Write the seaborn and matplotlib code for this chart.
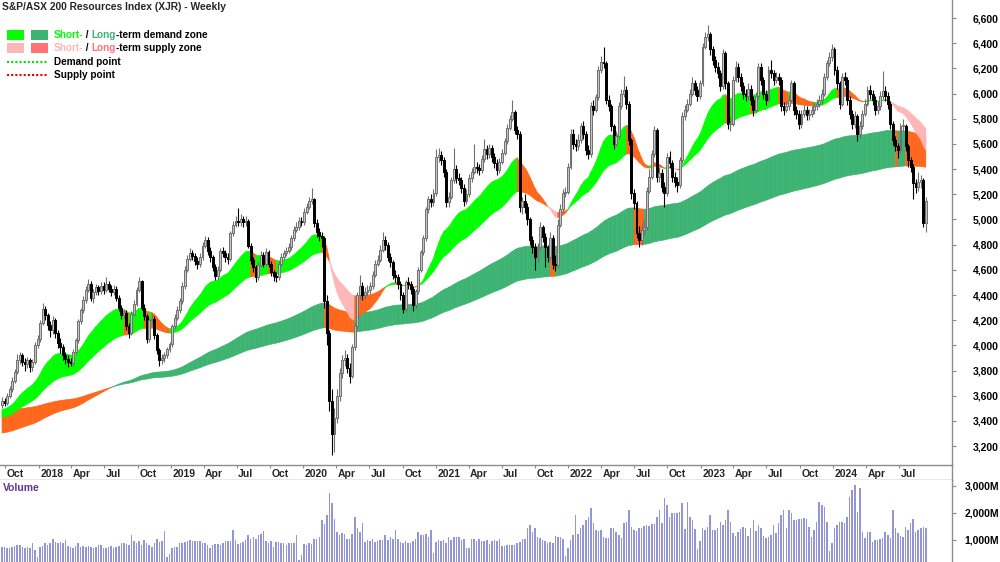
import numpy as np
import pandas as pd
import matplotlib
matplotlib.use("Agg")
import matplotlib.pyplot as plt
import seaborn as sns
from matplotlib.collections import PolyCollection, LineCollection
from matplotlib.patches import Rectangle
from matplotlib.lines import Line2D

# ---------------- data ----------------
title = "S&P/ASX 200 Resources Index (XJR) - Weekly"
first_week = "2017-09-22"
first_open = 3530

closes = [
3560,3545,3600,3650,3720,3790,3880,3920,3870,3850,3880,3830,3870,4000,4050,4180,4290,4240,4160,4120,
4200,4100,4020,3990,3920,3890,3870,3860,3950,4040,4190,4280,4360,4440,4490,4380,4420,4460,4430,4470,
4440,4490,4450,4420,4450,4380,4300,4240,4260,4150,4100,4250,4330,4440,4510,4300,4230,4050,4200,4210,
4080,3960,3880,3900,3920,3970,4010,4150,4220,4280,4350,4470,4600,4690,4730,4710,4670,4650,4700,4790,
4840,4750,4700,4620,4550,4600,4750,4730,4700,4690,4890,4960,4990,4980,5000,4980,4990,4790,4680,4620,
4540,4640,4720,4650,4740,4650,4580,4550,4540,4650,4700,4730,4750,4780,4850,4920,4940,4990,4980,5060,
5100,5150,5160,4970,4900,4870,4850,4350,4100,3560,3300,3420,3600,3780,3880,3900,3820,3760,3990,4150,
4400,4470,4400,4420,4440,4470,4560,4650,4680,4760,4840,4800,4700,4660,4560,4540,4490,4400,4290,4500,
4490,4450,4320,4430,4600,4740,4850,5080,5160,5140,5210,5500,5510,5470,5380,5140,5180,5310,5400,5330,
5310,5250,5150,5200,5330,5380,5420,5410,5390,5480,5560,5520,5570,5500,5450,5390,5460,5530,5620,5730,
5800,5850,5710,5680,5100,5150,5100,5000,4840,4780,4700,4780,4940,4860,4780,4700,4850,4650,4640,4960,
5080,5210,5220,5420,5680,5600,5580,5630,5740,5680,5550,5520,5900,5870,5970,6190,6250,6240,5950,5900,
5740,5600,5660,5900,6000,6030,5920,5630,5210,5130,4890,4840,4920,4940,5230,5340,5520,5710,5340,5370,
5260,5210,5500,5450,5340,5300,5270,5470,5820,5870,5920,6000,6080,6030,5980,6080,6370,6450,6470,6350,
6270,6210,6160,6060,6320,6080,5760,5760,6110,6210,6130,6060,6000,5980,6040,5950,5870,5980,6210,6110,
6000,5950,6190,6160,6110,6130,6110,5900,5870,5900,5950,6080,5870,5840,5760,5840,5870,5830,5840,5870,
5900,5920,5950,6000,6130,6240,6290,6350,6190,6080,5920,6130,6110,5950,5840,5760,5820,5680,5740,5840,
5920,6030,6000,5950,5870,5900,5980,6020,5980,5920,5760,5630,5580,5550,5740,5740,5580,5470,5420,5290,
5260,5300,5310,4970,5150]

highs = [
3590,3585,3625,3680,3745,3815,3930,3950,3940,3900,3910,3900,3890,4030,4080,4200,4334,4310,4260,4190,
4230,4220,4120,4060,4010,3950,3920,3900,3970,4060,4210,4300,4390,4470,4530,4510,4450,4490,4480,4500,
4500,4540,4510,4480,4480,4470,4400,4320,4290,4280,4180,4270,4360,4460,4540,4520,4330,4250,4220,4250,
4230,4100,3980,3930,3950,3990,4030,4170,4250,4310,4380,4500,4630,4720,4770,4760,4730,4700,4730,4820,
4870,4860,4780,4720,4650,4630,4770,4780,4760,4730,4910,4990,5030,5090,5040,5030,5030,5000,4810,4700,
4640,4660,4750,4740,4770,4760,4670,4600,4580,4670,4730,4760,4780,4810,4880,4950,4980,5020,5020,5090,
5130,5180,5247,5170,5000,4930,4900,4870,4400,4120,3650,3500,3650,3820,3920,3960,3930,3860,4010,4180,
4420,4560,4500,4460,4480,4500,4590,4680,4720,4800,4900,4870,4820,4730,4680,4600,4570,4510,4420,4520,
4540,4510,4470,4450,4620,4760,4880,5100,5190,5200,5240,5560,5570,5540,5500,5400,5220,5340,5570,5430,
5370,5340,5280,5240,5360,5410,5600,5460,5440,5510,5640,5590,5600,5590,5530,5480,5490,5560,5650,5760,
5830,5950,5870,5740,5700,5180,5200,5130,5020,4870,4810,4810,4980,4960,4890,4800,4900,4880,4720,5000,
5120,5240,5260,5450,5720,5720,5640,5680,5770,5780,5700,5590,5930,5950,6000,6220,6300,6372,6260,5990,
5920,5760,5700,5930,6040,6140,6060,5940,5650,5240,5150,4950,4980,5000,5260,5400,5550,5740,5730,5420,
5400,5300,5530,5540,5470,5380,5340,5500,5850,5910,5960,6040,6130,6110,6060,6110,6400,6490,6544,6490,
6380,6300,6250,6190,6350,6340,6100,5810,6140,6260,6240,6160,6090,6040,6080,6070,5980,6010,6240,6240,
6130,6030,6220,6270,6190,6170,6160,6130,5930,5940,5990,6110,6100,5900,5870,5870,5910,5900,5880,5900,
5930,5960,5990,6040,6160,6270,6330,6390,6370,6220,6100,6160,6170,6130,5980,5870,5860,5840,5780,5870,
5960,6060,6070,6030,5980,5940,6020,6180,6060,6010,5940,5780,5660,5610,5770,5800,5760,5600,5500,5440,
5320,5380,5350,5330,5180]

lows = [
3500,3515,3530,3585,3630,3700,3770,3850,3840,3800,3820,3790,3800,3850,3980,4030,4160,4200,4120,4070,
4090,4060,3980,3940,3880,3850,3830,3840,3840,3930,4020,4170,4260,4340,4420,4350,4340,4400,4400,4410,
4410,4420,4420,4390,4400,4350,4270,4210,4210,4120,4060,4080,4230,4310,4420,4280,4200,4020,4030,4170,
4050,3930,3840,3850,3870,3900,3950,3990,4130,4200,4260,4330,4450,4580,4670,4680,4640,4610,4620,4680,
4770,4720,4660,4590,4520,4520,4580,4700,4660,4650,4670,4870,4940,4950,4950,4940,4950,4770,4650,4580,
4500,4520,4620,4620,4630,4620,4550,4510,4500,4520,4630,4680,4710,4730,4760,4830,4900,4920,4950,4960,
5040,5080,5120,4940,4860,4830,4780,4300,4000,3480,3130,3150,3380,3560,3740,3840,3780,3700,3740,3960,
4130,4370,4360,4370,4390,4410,4450,4540,4630,4660,4740,4760,4670,4620,4530,4500,4450,4360,4260,4270,
4450,4410,4270,4300,4410,4580,4720,4830,5050,5100,5110,5190,5460,5430,5340,5100,5100,5160,5290,5290,
5270,5210,5110,5120,5180,5300,5360,5370,5350,5370,5460,5480,5490,5460,5410,5350,5370,5440,5510,5600,
5710,5780,5680,5640,5060,5040,5050,4960,4800,4730,4600,4660,4760,4820,4620,4660,4680,4610,4590,4620,
4940,5060,5180,5200,5400,5560,5540,5550,5610,5640,5510,5480,5500,5830,5850,5950,6160,6200,5920,5860,
5700,5560,5580,5640,5880,5970,5880,5590,5160,5080,4850,4780,4800,4880,4920,5210,5320,5500,5300,5300,
5220,5100,5190,5410,5300,5260,5220,5250,5450,5790,5850,5900,5980,5990,5940,5960,6060,6350,6420,6310,
6230,6170,6120,6020,6040,6040,5720,5700,5740,6090,6090,6020,5960,5940,5950,5910,5820,5850,5960,6070,
5960,5910,5930,6120,6070,6080,6070,5860,5830,5850,5870,5930,5830,5800,5720,5730,5810,5790,5790,5810,
5840,5870,5890,5920,5980,6110,6220,6260,6150,6040,5880,5900,6070,5910,5800,5720,5730,5620,5650,5720,
5820,5900,5960,5910,5830,5840,5870,5960,5940,5880,5720,5590,5540,5490,5530,5700,5540,5420,5380,5160,
5210,5230,5250,4940,4900]

volumes_m = [
740,740,690,720,750,780,800,830,740,690,740,720,880,630,380,740,780,880,800,880,
1020,940,880,940,880,1000,780,740,690,780,880,740,780,740,780,740,690,740,800,815,
690,720,740,780,690,740,780,880,880,860,830,1185,950,880,950,800,1000,900,800,740,
880,1050,920,950,1330,380,480,720,740,740,900,900,940,950,1000,950,975,975,950,880,
900,800,720,800,860,860,830,900,950,950,950,1370,1000,860,900,920,1000,1185,1050,1120,
1050,1185,1220,1330,950,880,950,740,920,920,900,900,815,880,880,880,1185,270,440,860,
830,880,860,1040,1050,1120,1740,1590,1930,2730,2360,1770,1310,1185,1270,1220,1025,1050,1220,1860,
1430,1310,1620,920,1000,950,1025,920,975,1000,1000,1185,1000,1100,1025,1370,1025,920,880,950,
900,900,950,1025,1300,1200,1200,1220,1120,1370,500,920,1000,950,1000,900,1120,1000,1120,1100,
1100,1000,1050,690,690,1025,1025,950,1025,950,975,1000,860,950,1000,950,1025,780,780,800,
815,815,800,880,940,1050,1050,1430,1556,1310,1430,1120,1060,1000,950,900,940,880,1150,1120,
1100,1025,390,690,1000,1185,1926,1220,1430,1556,1740,1864,2173,1617,1370,1350,1370,1120,1060,1060,
1430,1430,1310,1185,1060,1640,1680,2110,1490,1370,1350,1430,1430,1520,1556,1520,1590,1590,1860,2110,
1617,2543,2300,1864,1988,2010,1988,2050,2358,1400,2420,1864,1741,1400,650,975,1432,1370,1494,1926,
1370,1370,1432,1679,1556,1741,2111,1679,1270,1150,1309,1400,1494,1432,1150,1432,1741,1350,1556,1432,
1150,1060,1100,1185,1556,1247,1640,1926,2111,1432,2111,1988,1741,1741,1765,1790,1802,1765,1494,1123,
1370,1679,2420,2300,2235,1679,610,877,1432,1556,1679,1679,1617,1860,2600,2850,3037,2050,2914,1309,
1062,1309,1309,938,1000,1000,1025,1062,1309,1185,1062,2111,1432,1247,1150,1123,1494,1370,1617,1765,
1309,1370,1432,1494,1432]

# zone seeds (values at the left edge) and EMA lengths in weeks
short_seed = (3486, 3423)
long_seed = (3300, 3482)
short_len = (25, 55)
long_len = (150, 250)

price_ticks = list(range(3200, 6601, 200))
volume_ticks = [1000, 2000, 3000]
quarter_starts = pd.date_range("2017-10-01", "2024-07-01", freq="QS")

assert len(closes) == len(highs) == len(lows) == len(volumes_m)

# ---------------- styling ----------------
sns.set_theme(style="white")
plt.rcParams["font.family"] = ["Liberation Sans", "DejaVu Sans"]
plt.rcParams["font.weight"] = "bold"

C_SHORT_DEM = "#00FF00"
C_LONG_DEM = "#3CB371"
C_SHORT_SUP = "#FFB6B6"
C_LONG_SUP = "#FF7373"
C_CONFLICT = "#FF661A"
C_VOL = "#9494D8"
C_AXIS = "#8C8C8C"

n = len(closes)
weeks = np.arange(n)
opens = [first_open] + closes[:-1]
start = pd.Timestamp(first_week)

fig = plt.figure(figsize=(10, 5.62), dpi=100)
ax = fig.add_axes([0, 97 / 562, 0.952, 465 / 562])
axd = fig.add_axes([0, 82 / 562, 0.952, 15 / 562])
axv = fig.add_axes([0, 0, 0.952, 82 / 562])

XL = (-0.79, 374.3)


def ema(values, length, seed):
    a = 2.0 / (length + 1)
    e = seed
    out = []
    for v in values:
        e = e + a * (v - e)
        out.append(e)
    return np.array(out)


def draw_zone(fast, slow, c_dem, c_sup):
    polys, cols = [], []
    for i in range(n - 1):
        lo0, hi0 = sorted((fast[i], slow[i]))
        lo1, hi1 = sorted((fast[i + 1], slow[i + 1]))
        polys.append([(i, lo0), (i + 1, lo1), (i + 1, hi1), (i, hi0)])
        j = i + 1
        bull = fast[j] > slow[j]
        above = closes[j] >= (fast[j] + slow[j]) / 2
        if bull and above:
            c = c_dem
        elif (not bull) and (not above):
            c = c_sup
        else:
            c = C_CONFLICT
        cols.append(c)
    pc = PolyCollection(polys, facecolors=cols, edgecolors=cols, linewidths=0.4, zorder=1)
    ax.add_collection(pc)


lf = ema(closes, long_len[0], long_seed[0])
ls = ema(closes, long_len[1], long_seed[1])
sf = ema(closes, short_len[0], short_seed[0])
ss = ema(closes, short_len[1], short_seed[1])
draw_zone(lf, ls, C_LONG_DEM, C_LONG_SUP)
draw_zone(sf, ss, C_SHORT_DEM, C_SHORT_SUP)

# candles
wicks, wcols, bodies, bface, bedge = [], [], [], [], []
hw = 0.38
for i in range(n):
    o, c, h, l = opens[i], closes[i], highs[i], lows[i]
    up = c >= o
    col = "#707070" if up else "#000000"
    wicks.append([(i, l), (i, h)])
    wcols.append(col)
    lo, hi = min(o, c), max(o, c)
    if hi - lo < 8:
        hi = lo + 8
    bodies.append([(i - hw, lo), (i + hw, lo), (i + hw, hi), (i - hw, hi)])
    bface.append("#C4C4C4" if up else "#000000")
    bedge.append(col)
ax.add_collection(LineCollection(wicks, colors=wcols, linewidths=0.8, zorder=3))
ax.add_collection(PolyCollection(bodies, facecolors=bface, edgecolors=bedge, linewidths=0.7, zorder=4))

ax.set_xlim(*XL)
ax.set_ylim(3050, 6743)
ax.yaxis.tick_right()
ax.set_yticks(price_ticks)
ax.set_yticklabels([f"{v:,}" for v in price_ticks])
ax.tick_params(axis="y", direction="out", length=3, width=0.8, color=C_AXIS, pad=12,
               labelsize=7.5, labelcolor="black")
ax.set_xticks([])
for s in ("left", "top", "bottom"):
    ax.spines[s].set_visible(False)
ax.spines["right"].set_color(C_AXIS)
ax.spines["right"].set_linewidth(1.0)

# date strip
axd.set_xlim(*XL)
axd.set_ylim(0, 1)
axd.set_xticks([])
axd.set_yticks([])
axd.spines["left"].set_visible(False)
for s in ("top", "bottom", "right"):
    axd.spines[s].set_color(C_AXIS)
    axd.spines[s].set_linewidth(1.0)
for d in quarter_starts:
    pos = (d - start).days / 7.0
    lab = str(d.year) if d.month == 1 else d.strftime("%b")
    axd.vlines(pos, 0.8, 1.0, color=C_AXIS, linewidth=0.8)
    axd.text(pos + 0.6, 0.42, lab, ha="left", va="center", fontsize=7.5, fontweight="bold")

# volume
sns.barplot(x=weeks, y=volumes_m, native_scale=True, color=C_VOL, saturation=1,
            width=0.6, errorbar=None, linewidth=0, ax=axv)
axv.set_xlim(*XL)
axv.set_ylim(185, 3222)
axv.set_xlabel("")
axv.set_ylabel("")
axv.set_xticks([])
axv.yaxis.tick_right()
axv.set_yticks(volume_ticks)
axv.set_yticklabels([f"{v:,}M" for v in volume_ticks])
axv.tick_params(axis="y", direction="out", length=3, width=0.8, color=C_AXIS, pad=6,
                labelsize=7.5, labelcolor="black")
for s in ("left", "top", "bottom"):
    axv.spines[s].set_visible(False)
axv.spines["right"].set_color(C_AXIS)
axv.spines["right"].set_linewidth(1.0)


def fx(x):
    return x / 1000.0


def fy(y):
    return 1 - y / 562.0


fig.text(fx(3), fy(488), "Volume", color="#663399", fontsize=7.5, fontweight="bold", va="center")
fig.text(fx(2), fy(7), title, fontsize=7.4, fontweight="bold", va="center")

# legend
for (x, y, c) in [(7, 30, C_SHORT_DEM), (31, 30, C_LONG_DEM), (7, 43, C_SHORT_SUP), (31, 43, C_LONG_SUP)]:
    fig.add_artist(Rectangle((fx(x), fy(y + 10)), 17 / 1000, 10 / 562, transform=fig.transFigure,
                             facecolor=c, edgecolor="none"))
for (y, c) in [(62, "#00DD00"), (75, "#EE0000")]:
    fig.add_artist(Line2D([fx(7), fx(48)], [fy(y), fy(y)], transform=fig.transFigure, color=c,
                          linewidth=1.5, linestyle=(0, (1, 1))))


def multi_text(x, y, parts):
    t = fig.text(fx(x), fy(y), parts[0][0], color=parts[0][1], fontsize=7.2, fontweight="bold",
                 va="center", ha="left")
    for s, c in parts[1:]:
        t = ax.annotate(s, xy=(1, 0), xycoords=t, va="bottom", ha="left", color=c,
                        fontsize=7.2, fontweight="bold", annotation_clip=False)


multi_text(54, 35, [("Short-", C_SHORT_DEM), (" / ", "black"), ("Long", C_LONG_DEM),
                    ("-term demand zone", "black")])
multi_text(54, 48, [("Short-", C_SHORT_SUP), (" / ", "black"), ("Long", C_LONG_SUP),
                    ("-term supply zone", "black")])
multi_text(54, 62, [("Demand point", "black")])
multi_text(54, 75, [("Supply point", "black")])

fig.savefig("out.png", dpi=100, facecolor="white")
